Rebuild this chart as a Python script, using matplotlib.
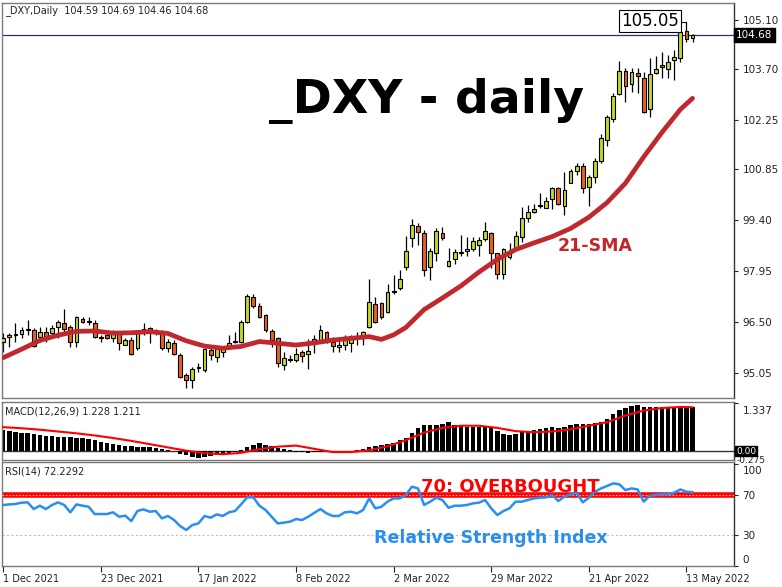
import numpy as np
import matplotlib
matplotlib.use("Agg")
import matplotlib.pyplot as plt
from matplotlib.transforms import ScaledTranslation

# ---- daily candles (bar index 0 = 1 Dec 2021, 113 = 13 May 2022) ----
opens = [95.94, 96.08, 96.14, 96.15, 96.26, 96.27, 96.08, 96.22, 96.17, 96.36,
         96.46, 96.36, 95.94, 96.57, 96.50, 96.46, 96.04, 96.13, 96.03, 96.17,
         95.84, 95.98, 95.75, 96.22, 96.32, 96.23, 96.22, 95.75, 95.89, 95.56,
         94.99, 94.84, 95.19, 95.13, 95.70, 95.51, 95.65, 95.79, 95.95, 95.94,
         96.51, 97.20, 96.95, 96.70, 96.24, 96.03, 95.27, 95.45, 95.41, 95.65,
         95.59, 95.89, 95.98, 96.20, 95.94, 95.79, 95.84, 95.89, 96.09, 96.08,
         96.36, 97.00, 97.03, 96.79, 97.37, 97.46, 98.05, 98.90, 99.23, 99.02,
         98.07, 98.45, 99.04, 98.09, 98.28, 98.49, 98.52, 98.59, 98.69, 98.85,
         99.04, 98.45, 97.86, 98.34, 98.59, 98.93, 99.45, 99.64, 99.82, 99.75,
         99.99, 100.30, 99.81, 100.47, 100.80, 100.95, 100.33, 100.64, 101.08, 101.68,
         102.27, 102.99, 103.66, 103.28, 103.59, 103.44, 102.55, 103.58, 103.82, 103.69,
         103.96, 104.01, 104.79, 104.59]
highs = [96.17, 96.17, 96.46, 96.35, 96.55, 96.32, 96.36, 96.36, 96.41, 96.55,
         96.86, 96.41, 96.67, 96.65, 96.63, 96.55, 96.13, 96.16, 96.27, 96.22,
         96.03, 96.08, 96.25, 96.46, 96.36, 96.29, 96.27, 96.00, 95.98, 95.60,
         95.03, 95.22, 95.32, 95.75, 95.75, 95.79, 95.81, 96.13, 96.22, 96.55,
         97.29, 97.30, 97.05, 96.73, 96.29, 96.08, 95.65, 95.55, 95.75, 95.70,
         96.00, 96.13, 96.41, 96.24, 96.08, 96.08, 96.13, 96.13, 96.22, 96.25,
         97.72, 97.22, 97.08, 97.58, 97.84, 97.98, 98.95, 99.42, 99.33, 99.12,
         98.60, 99.17, 99.21, 98.61, 98.57, 98.97, 98.91, 98.93, 98.91, 99.35,
         99.07, 98.47, 98.60, 98.74, 99.09, 99.78, 99.83, 99.85, 100.16, 100.07,
         100.35, 100.35, 100.78, 100.85, 101.04, 101.02, 100.68, 101.16, 101.84, 102.39,
         103.01, 103.94, 103.72, 103.72, 103.72, 103.63, 104.01, 104.06, 104.20, 104.10,
         104.25, 104.80, 105.05, 104.69]
lows = [95.65, 95.79, 95.94, 96.05, 96.13, 95.79, 95.94, 95.94, 96.13, 96.03,
        96.17, 95.79, 95.79, 96.46, 96.41, 96.03, 95.94, 96.00, 95.94, 95.70,
        95.84, 95.56, 95.70, 96.13, 95.89, 96.13, 95.70, 95.65, 95.56, 94.89,
        94.61, 94.61, 95.08, 95.08, 95.41, 95.37, 95.50, 95.75, 95.89, 95.89,
        96.48, 96.90, 96.60, 96.22, 95.79, 95.22, 95.13, 95.35, 95.37, 95.37,
        95.15, 95.62, 95.89, 95.89, 95.65, 95.65, 95.70, 95.65, 95.84, 95.84,
        96.32, 96.48, 96.57, 96.76, 97.28, 97.41, 97.99, 98.64, 98.69, 97.81,
        97.69, 98.23, 98.83, 98.07, 98.15, 98.38, 98.39, 98.53, 98.38, 98.80,
        98.03, 97.72, 97.72, 98.28, 98.55, 98.78, 99.35, 99.59, 99.73, 99.73,
        99.71, 99.83, 99.54, 100.45, 100.68, 100.18, 99.81, 100.47, 101.04, 101.51,
        102.20, 102.96, 102.77, 103.06, 103.01, 102.46, 102.35, 103.56, 103.44, 103.44,
        103.39, 103.90, 104.48, 104.46]
closes = [96.03, 96.13, 96.16, 96.28, 96.28, 95.81, 96.22, 96.08, 96.32, 96.51,
          96.29, 95.94, 96.63, 96.50, 96.49, 96.08, 96.03, 96.03, 96.22, 95.89,
          95.98, 95.59, 96.17, 96.29, 96.22, 96.21, 95.75, 95.94, 95.59, 94.94,
          94.83, 95.15, 95.20, 95.72, 95.56, 95.72, 95.79, 95.89, 95.93, 96.51,
          97.24, 96.95, 96.65, 96.27, 95.98, 95.32, 95.46, 95.42, 95.59, 95.54,
          95.68, 96.00, 96.27, 96.01, 95.81, 95.84, 96.08, 96.11, 96.08, 96.20,
          97.06, 96.51, 96.65, 97.34, 97.35, 97.72, 98.52, 99.26, 99.07, 97.98,
          98.53, 99.10, 98.88, 98.23, 98.50, 98.47, 98.59, 98.79, 98.83, 99.09,
          98.45, 97.86, 98.57, 98.53, 98.95, 99.45, 99.64, 99.71, 99.80, 99.95,
          100.30, 99.86, 100.26, 100.80, 100.95, 100.30, 100.62, 101.09, 101.75, 102.33,
          102.93, 103.66, 103.22, 103.61, 103.50, 102.49, 103.55, 103.69, 103.75, 103.91,
          104.04, 104.77, 104.55, 104.68]

# 21-SMA
sma_bar = [0, 3, 6, 9, 12, 15, 18, 21, 24, 27, 30, 33, 36, 39, 42, 45, 48, 51, 54, 57,
           60, 62, 64, 66, 69, 72, 75, 78, 81, 84, 87, 90, 93, 96, 99, 102, 105, 108, 111, 113]
sma_val = [95.48, 95.72, 95.97, 96.12, 96.23, 96.24, 96.18, 96.19, 96.22, 96.17,
           95.96, 95.81, 95.75, 95.80, 95.94, 95.89, 95.84, 95.90, 95.98, 96.03,
           96.08, 96.00, 96.13, 96.34, 96.85, 97.18, 97.52, 97.92, 98.28, 98.56,
           98.75, 98.93, 99.16, 99.48, 99.90, 100.45, 101.20, 101.90, 102.55, 102.87]

# MACD(12,26,9) main (histogram) and signal
macd = [0.58, 0.55, 0.54, 0.51, 0.49, 0.46, 0.44, 0.42, 0.41, 0.40,
        0.39, 0.39, 0.37, 0.35, 0.32, 0.30, 0.26, 0.23, 0.20, 0.17,
        0.14, 0.14, 0.12, 0.12, 0.11, 0.09, 0.055, 0.02, 0.0, -0.07,
        -0.11, -0.17, -0.18, -0.17, -0.14, -0.11, -0.09, -0.07, -0.04, 0.03,
        0.12, 0.18, 0.21, 0.18, 0.15, 0.09, 0.05, 0.02, -0.02, -0.04,
        -0.055, -0.04, -0.02, -0.01, -0.01, -0.01, 0.0, 0.01, 0.03, 0.06,
        0.11, 0.15, 0.17, 0.19, 0.23, 0.30, 0.37, 0.49, 0.63, 0.72,
        0.72, 0.72, 0.75, 0.79, 0.72, 0.70, 0.66, 0.66, 0.66, 0.66,
        0.63, 0.55, 0.46, 0.44, 0.46, 0.52, 0.55, 0.58, 0.61, 0.65,
        0.66, 0.63, 0.67, 0.72, 0.74, 0.74, 0.74, 0.77, 0.81, 0.89,
        1.02, 1.14, 1.18, 1.25, 1.27, 1.23, 1.21, 1.21, 1.21, 1.21,
        1.21, 1.23, 1.23, 1.228]
sig_bar = [0, 3, 6, 9, 12, 15, 18, 21, 24, 27, 30, 33, 36, 39, 42, 45, 48, 51, 54, 57,
           60, 63, 66, 69, 72, 75, 78, 81, 84, 87, 90, 93, 96, 99, 102, 105, 108, 111, 113]
sig_val = [0.66, 0.63, 0.59, 0.54, 0.49, 0.43, 0.36, 0.28, 0.19, 0.10,
           0.01, -0.06, -0.09, -0.05, 0.05, 0.12, 0.15, 0.06, -0.03, -0.03,
           0.02, 0.13, 0.30, 0.51, 0.64, 0.70, 0.70, 0.64, 0.55, 0.52,
           0.54, 0.60, 0.70, 0.80, 0.98, 1.12, 1.19, 1.22, 1.211]

# RSI(14)
rsi = [59.7, 60.3, 60.7, 62.0, 62.3, 55.7, 59.0, 55.7, 59.7, 62.3,
       59.7, 52.5, 60.3, 59.0, 58.0, 50.8, 50.8, 50.8, 52.5, 48.2,
       49.2, 43.9, 53.8, 55.4, 53.1, 53.8, 46.6, 48.9, 45.0, 39.0,
       35.1, 40.0, 41.6, 48.9, 47.2, 50.5, 48.9, 52.5, 53.8, 60.3,
       67.2, 67.2, 59.0, 54.8, 48.2, 41.6, 42.3, 43.3, 45.9, 44.9,
       48.2, 52.0, 55.7, 51.5, 48.9, 48.9, 52.5, 53.1, 51.5, 54.8,
       66.2, 56.4, 58.0, 63.0, 66.2, 66.2, 69.5, 77.7, 76.0, 59.7,
       63.0, 66.9, 64.6, 57.0, 59.0, 59.0, 59.7, 61.3, 62.0, 64.6,
       56.4, 49.8, 53.8, 56.4, 63.0, 63.0, 64.6, 66.2, 66.9, 67.2,
       69.5, 63.6, 67.9, 70.2, 71.8, 62.3, 66.9, 72.8, 76.0, 78.4,
       81.0, 80.0, 74.4, 76.0, 75.0, 63.0, 68.9, 69.5, 70.2, 70.2,
       71.8, 75.0, 72.8, 72.2]

price_ticks = [105.10, 103.70, 102.25, 100.85, 99.40, 97.95, 96.50, 95.05]
date_ticks = [0, 16, 32, 48, 64, 80, 96, 112]
date_labels = ["1 Dec 2021", "23 Dec 2021", "17 Jan 2022", "8 Feb 2022",
               "2 Mar 2022", "29 Mar 2022", "21 Apr 2022", "13 May 2022"]

GREEN = "#c2d62c"
ORANGE = "#f0601c"
SMA_RED = "#c0282d"
FRAME = "#7a7a7a"
TXT = "#222222"
SMALL = 7

W, H = 782, 587
fig = plt.figure(figsize=(W / 100, H / 100), dpi=100)


def box(x0, x1, y0, y1):
    return [x0 / W, 1 - y1 / H, (x1 - x0) / W, (y1 - y0) / H]


def nudge(label, dy_px):
    # shift a tick label up/down by some pixels, like the terminal does
    label.set_transform(label.get_transform()
                        + ScaledTranslation(0, dy_px / 100, fig.dpi_scale_trans))


ax = fig.add_axes(box(2, 734, 3, 398))
axm = fig.add_axes(box(2, 734, 402, 460))
axr = fig.add_axes(box(2, 734, 462, 566))

for a in (ax, axm, axr):
    a.set_xlim(-0.2, 119.8)
    for s in a.spines.values():
        s.set_color(FRAME)
        s.set_linewidth(1.0)
    a.spines["right"].set_color("#333333")
    a.yaxis.tick_right()
    a.tick_params(axis="y", direction="out", length=3, width=0.8, colors=TXT,
                  labelsize=7.5, pad=3)
    a.tick_params(axis="x", bottom=False, labelbottom=False)

# ---- main price panel ----
idx = np.arange(len(opens))
o, h, l, c = map(np.array, (opens, highs, lows, closes))
up = c >= o
ax.vlines(idx, l, h, color="black", lw=0.9, zorder=2)
ax.bar(idx, np.maximum(np.abs(c - o), 0.025), bottom=np.minimum(o, c), width=0.62,
       color=np.where(up, GREEN, ORANGE), edgecolor="black", linewidth=0.8, zorder=3)
ax.plot(sma_bar, sma_val, color=SMA_RED, lw=3.4, solid_capstyle="round", zorder=4)
ax.axhline(closes[-1], color="#2b2f7a", lw=0.9, zorder=1)
ax.set_ylim(94.331, 105.584)
ax.set_yticks(price_ticks)
ax.set_yticklabels([f"{v:.2f}" for v in price_ticks])
ax.text(1.003, closes[-1], f"{closes[-1]:.2f}", transform=ax.get_yaxis_transform(),
        ha="left", va="center", color="white", fontsize=7.5, clip_on=False,
        bbox=dict(boxstyle="square,pad=0.2", fc="black", ec="black"))

hi_bar = int(np.argmax(h))
ax.plot([106.95, hi_bar], [h[hi_bar], h[hi_bar]], color="black", lw=0.8, zorder=5)
ax.text(106.1, 105.085, f"{h[hi_bar]:.2f}", ha="center", va="center", fontsize=12,
        color="black", zorder=6,
        bbox=dict(boxstyle="square,pad=0.12", fc="white", ec="black", lw=0.8))

fig.text(5 / W, 1 - 11 / H, "_DXY,Daily  104.59 104.69 104.46 104.68",
         fontsize=SMALL, color=TXT, va="center", ha="left")
fig.text(426 / W, 1 - 101 / H, "_DXY - daily", fontsize=34, fontweight="bold",
         color="black", ha="center", va="center")
fig.text(595 / W, 1 - 246 / H, "21-SMA", fontsize=12.5, fontweight="bold",
         color=SMA_RED, ha="center", va="center")

# ---- MACD panel ----
axm.bar(idx, macd, width=0.72, color="black", zorder=2)
axm.plot(sig_bar, sig_val, color="red", lw=1.5, zorder=3)
axm.axhline(0, color="#333333", lw=1.0, zorder=1)
axm.set_ylim(-0.249, 1.357)
axm.set_yticks([1.337])
axm.set_yticklabels(["1.337"])
nudge(axm.get_yticklabels()[0], -7)
axm.text(1.003, -0.265, "-0.275", transform=axm.get_yaxis_transform(), ha="left",
         va="center", fontsize=6.5, color=TXT, clip_on=False)
axm.text(1.003, 0.0, "0.00", transform=axm.get_yaxis_transform(), ha="left",
         va="center", fontsize=6.5, color="white", clip_on=False,
         bbox=dict(boxstyle="square,pad=0.08", fc="black", ec="black"))
fig.text(5 / W, 1 - 411 / H, "MACD(12,26,9) 1.228 1.211", fontsize=SMALL,
         color=TXT, va="center", ha="left")

# ---- RSI panel ----
axr.axhline(70, color="red", lw=4, zorder=2)
axr.axhline(70, color="#ffb0b0", lw=0.8, ls=(0, (1.5, 1.5)), zorder=3)
axr.axhline(30, color="#c0c0c0", lw=0.8, ls=(0, (2, 2)), zorder=1)
axr.plot(idx, rsi, color="#2a8ef0", lw=1.8, zorder=4)
axr.set_ylim(-0.3, 102)
axr.set_yticks([100, 70, 30, 0])
axr.set_yticklabels(["100", "70", "30", "0"])
rl = axr.get_yticklabels()
nudge(rl[0], -6)
nudge(rl[3], 7)
axr.set_xticks(date_ticks)
axr.set_xticklabels(date_labels)
axr.tick_params(axis="x", bottom=True, labelbottom=True, direction="out", length=4,
                width=0.8, colors=TXT, labelsize=SMALL, pad=2)
for t in axr.get_xticklabels():
    t.set_ha("left")
fig.text(5 / W, 1 - 471 / H, "RSI(14) 72.2292", fontsize=SMALL, color=TXT,
         va="center", ha="left")
fig.text(510 / W, 1 - 487 / H, "70: OVERBOUGHT", fontsize=13, fontweight="bold",
         color="red", ha="center", va="center")
fig.text(491 / W, 1 - 538 / H, "Relative Strength Index", fontsize=12.5,
         fontweight="bold", color="#2a8ef0", ha="center", va="center")

fig.savefig("out.png", dpi=100)
